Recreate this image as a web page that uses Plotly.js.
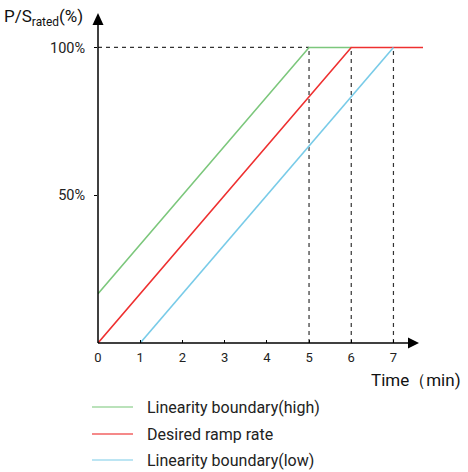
<!DOCTYPE html>
<html><head><meta charset="utf-8">
<script src="https://cdn.plot.ly/plotly-3.0.1.min.js"></script>
<style>body{margin:0;background:#fff}#chart{width:468px;height:472px}</style>
</head><body><div id="chart"></div>
<script>
// Data
const seriesNames = ["Linearity boundary(high)", "Desired ramp rate", "Linearity boundary(low)"];
const timeHigh = [0, 5, 6];
const valHigh = [16.7, 100, 100];
const timeDesired = [0, 6, 7.7];
const valDesired = [0, 100, 100];
const timeLow = [1, 7];
const valLow = [0, 100];
const xTicks = [0, 1, 2, 3, 4, 5, 6, 7];
const yTicks = [50, 100];
const guideTimes = [5, 6, 7];

const lineColors = ["#7cc77c", "#ee3030", "#78cbe8"];
const legendColors = ["#a3d9a3", "#f26262", "#a6dcef"];

const traces = [
  {x: timeHigh, y: valHigh, mode: "lines", line: {color: lineColors[0], width: 1.6}, name: seriesNames[0], cliponaxis: false},
  {x: timeDesired, y: valDesired, mode: "lines", line: {color: lineColors[1], width: 1.6}, name: seriesNames[1], cliponaxis: false},
  {x: timeLow, y: valLow, mode: "lines", line: {color: lineColors[2], width: 1.6}, name: seriesNames[2], cliponaxis: false}
];

const L = 98, W = 325, T = 12, H = 331;
const px2x = p => (p - L) / W;
const py2y = p => (T + H - p) / H;

const shapes = [];
// dashed guides
shapes.push({type: "line", xref: "x", yref: "y", x0: 0, x1: guideTimes[0], y0: 100, y1: 100, line: {color: "#333", width: 1.2, dash: "4px,4px"}, layer: "below"});
guideTimes.forEach(t => shapes.push({type: "line", xref: "x", yref: "y", x0: t, x1: t, y0: 0, y1: 100, line: {color: "#333", width: 1.2, dash: "4px,4px"}, layer: "below"}));
// axis lines
shapes.push({type: "line", xref: "paper", yref: "paper", x0: 0, x1: px2x(412), y0: 0, y1: 0, line: {color: "#000", width: 1.5}});
shapes.push({type: "line", xref: "paper", yref: "paper", x0: 0, x1: 0, y0: 0, y1: py2y(20), line: {color: "#000", width: 1.5}});
// arrowheads
shapes.push({type: "path", xref: "paper", yref: "paper", xsizemode: "pixel", ysizemode: "pixel", xanchor: px2x(419), yanchor: 0,
  path: "M0,0 L-11,5.5 L-11,-5.5 Z", fillcolor: "#000", line: {width: 0}});
shapes.push({type: "path", xref: "paper", yref: "paper", xsizemode: "pixel", ysizemode: "pixel", xanchor: 0, yanchor: py2y(13),
  path: "M0,0 L-5.5,-12 L5.5,-12 Z", fillcolor: "#000", line: {width: 0}});
// legend lines
const legRows = [407, 434, 460];
legRows.forEach((r, i) => shapes.push({type: "line", xref: "paper", yref: "paper", x0: px2x(92), x1: px2x(133), y0: py2y(r), y1: py2y(r), line: {color: legendColors[i], width: 1.6}}));

const font = "Roboto, 'Noto Sans', sans-serif";
const annotations = legRows.map((r, i) => ({xref: "paper", yref: "paper", x: px2x(145), y: py2y(r), xanchor: "left", yanchor: "middle",
  text: seriesNames[i], showarrow: false, font: {family: font, size: 16, color: "#222"}}));
annotations.push({xref: "paper", yref: "paper", x: px2x(369), y: py2y(380), xanchor: "left", yanchor: "middle",
  text: "Time（min)", showarrow: false, font: {family: font, size: 17, color: "#111"}});
annotations.push({xref: "paper", yref: "paper", x: px2x(2), y: py2y(18), xanchor: "left", yanchor: "middle",
  text: "P/S<sub>rated</sub>(%)", showarrow: false, font: {family: font, size: 17, color: "#111"}});

const layout = {
  width: 468, height: 472,
  margin: {l: L, r: 468 - L - W, t: T, b: 472 - T - H},
  paper_bgcolor: "#fff", plot_bgcolor: "#fff",
  showlegend: false,
  xaxis: {range: [0, 7.7], tickvals: xTicks, ticktext: xTicks.map(String), showgrid: false, zeroline: false, showline: false,
    ticks: "inside", ticklen: 3, tickcolor: "#000", tickwidth: 1, ticklabelstandoff: 5,
    tickfont: {family: font, size: 13, color: "#222"}, fixedrange: true},
  yaxis: {range: [0, 112], tickvals: yTicks, ticktext: yTicks.map(v => v + "%"), showgrid: false, zeroline: false, showline: false,
    ticks: "outside", ticklen: 3, tickcolor: "#000", tickwidth: 1, ticklabelstandoff: 6,
    tickfont: {family: font, size: 14.5, color: "#222"}, fixedrange: true},
  shapes: shapes,
  annotations: annotations
};

Plotly.newPlot("chart", traces, layout, {displayModeBar: false, staticPlot: true});
</script>
</body></html>
